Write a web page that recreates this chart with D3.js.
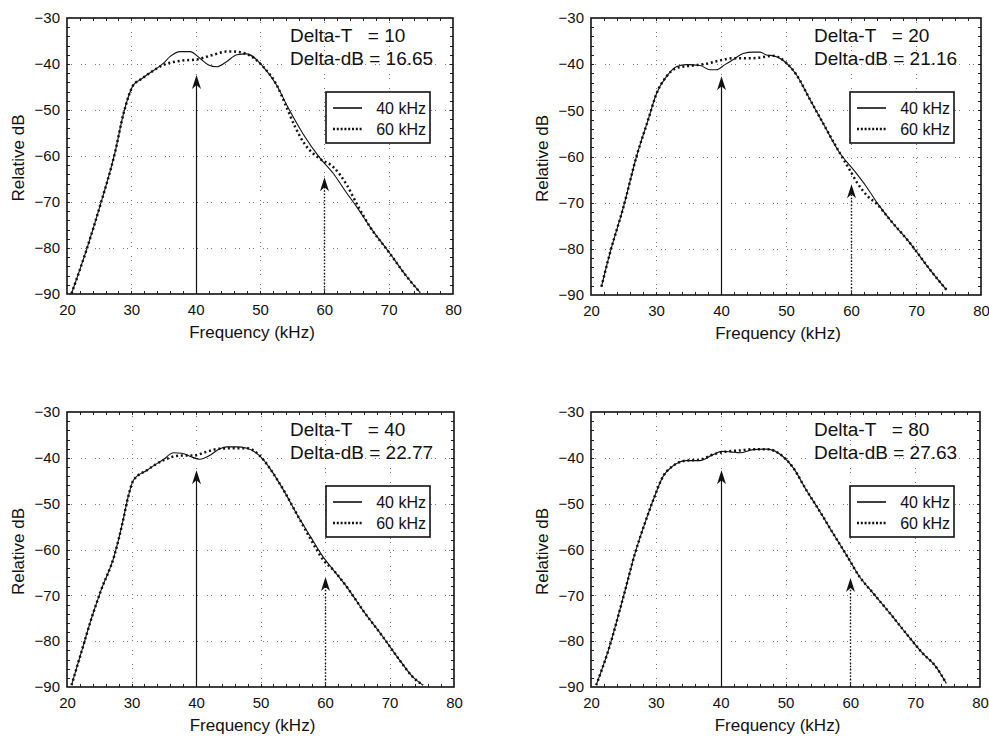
<!DOCTYPE html>
<html><head><meta charset="utf-8">
<script src="https://cdn.jsdelivr.net/npm/d3@7/dist/d3.min.js"></script>
<style>
body{margin:0;background:#fff}
svg{display:block}
text{font-family:"Liberation Sans",Arial,sans-serif;fill:#111}
</style>
</head><body>
<svg id="c" width="989" height="738"></svg>
<script>
// ---------- data ----------
const xTicks = [20, 30, 40, 50, 60, 70, 80];
const yTicks = [-30, -40, -50, -60, -70, -80, -90];
const deltaT = ["10", "20", "40", "80"];
const deltaDB = ["16.65", "21.16", "22.77", "27.63"];
const seriesNames = ["40 kHz", "60 kHz"];
const arrowFreqs = [40, 60];
const arrowTips = [[-42.4, -64.6], [-42.6, -66.0], [-42.7, -66.0], [-42.7, -66.2]];

// Delta-T = 10
const t10_40 = [[20.7,-89.9],[23.1,-80.1],[25.1,-71],[27.5,-59],[28.8,-50.7],[30.3,-44.6],[31.3,-43.5],[32.4,-42.4],[35,-39.8],[36,-38.4],[37.6,-37.3],[39.1,-37.3],[40.7,-38.8],[42,-40.2],[43.3,-40.6],[44.8,-39.5],[46.4,-38],[47.9,-37.8],[50.5,-40.6],[52.6,-44.6],[54.3,-49.3],[56.7,-55.2],[59.3,-60.4],[61.4,-63.8],[63.5,-68.1],[65,-71],[67.1,-75.4],[70.2,-81.2],[72.8,-86.2],[74.9,-89.7]];
const t10_60 = [[20.7,-89.9],[23.1,-80.1],[25.1,-71],[27.5,-59],[28.8,-50.7],[30.3,-44.6],[31.3,-43.5],[32.4,-42.4],[35,-40.2],[37.6,-39.3],[40.2,-39],[42.7,-38],[44.8,-37.3],[45.9,-37.3],[47.9,-37.8],[50.5,-40.6],[52.6,-44.6],[54.1,-49.3],[55.5,-53.8],[57,-57.5],[59.3,-60.6],[61.4,-62.4],[63.5,-66.3],[65,-70.3],[67.1,-75.4],[70.2,-81.2],[72.8,-86.2],[74.9,-89.7]];
// Delta-T = 20
const t20_40 = [[21.6,-88.2],[22.9,-81],[25,-70.9],[27,-60],[28.8,-52],[30.1,-46.3],[31.6,-42.7],[33.2,-40.5],[34.7,-40.1],[36.8,-40.3],[38.3,-41.2],[39.3,-41.2],[40.6,-40.1],[41.9,-39],[43.4,-37.7],[45,-37.4],[46,-37.4],[47,-38],[48.1,-38.2],[50.1,-39.8],[51.6,-42.3],[53.7,-47.7],[55.7,-52.8],[58.3,-59.3],[60.4,-62.9],[62.4,-66.6],[64,-70],[66,-73.7],[69.1,-78.8],[72.2,-84.6],[74.7,-88.9]];
const t20_60 = [[21.6,-88.2],[22.9,-81],[25,-70.9],[27,-60],[28.8,-52],[30.1,-46.3],[31.6,-42.7],[33.2,-40.8],[35.7,-40.3],[37.8,-39.9],[39.8,-39.2],[41.9,-38.7],[45,-38.7],[48.1,-38.2],[50.1,-39.8],[51.6,-42.3],[53.7,-47.7],[55.7,-52.8],[58.3,-59.3],[59.8,-62.9],[61,-65.8],[62.5,-68.5],[64,-70.3],[66,-73.7],[69.1,-78.8],[72.2,-84.6],[74.7,-88.9]];
// Delta-T = 40
const t40_40 = [[20.7,-89.6],[22.2,-82.5],[23.8,-75],[25.3,-68.8],[27.3,-61.5],[28.7,-53.6],[29.4,-49],[30.3,-44.9],[32.4,-42.7],[35,-40.3],[36.5,-38.9],[37.8,-39],[39.1,-39.7],[40.6,-40.3],[42.1,-39.5],[43.7,-38],[44.8,-37.6],[46.3,-37.6],[47.9,-37.9],[50.5,-40.5],[51.5,-42.4],[53.6,-47.1],[55.6,-52.2],[57.8,-57.3],[59.6,-61.4],[61.3,-64.5],[63.4,-68.2],[65.9,-73.3],[69,-79.1],[71.6,-84.2],[73.6,-87.8],[75.2,-89.6]];
const t40_60 = [[20.7,-89.6],[22.2,-82.5],[23.8,-75],[25.3,-68.8],[27.3,-61.5],[28.7,-53.6],[29.4,-49],[30.3,-44.9],[32.4,-42.7],[35,-40.5],[37.6,-39.5],[39.6,-39.5],[41.6,-38.7],[43.7,-38],[45.8,-37.9],[47.9,-37.9],[50.5,-40.5],[51.5,-42.4],[53.6,-47.1],[55.6,-52.2],[57.6,-57.3],[59.8,-62.4],[61.3,-64.5],[63.4,-68.2],[65.9,-73.3],[69,-79.1],[71.6,-84.2],[73.6,-87.8],[75.2,-89.6]];
// Delta-T = 80
const t80_40 = [[20.8,-89.6],[22.7,-81.9],[25,-70.3],[26.8,-60.8],[28.3,-54.3],[29.6,-49.2],[31.1,-44.1],[32.7,-41.7],[34.7,-40.6],[36.8,-40.6],[38.8,-39.3],[40.2,-38.6],[41.5,-38.7],[43,-38.9],[45,-38.2],[47.1,-38.1],[49.6,-39.7],[51.2,-42.2],[53.2,-47],[55.3,-51.7],[57.3,-56.4],[59.4,-61.2],[61.4,-65.9],[63.5,-69.5],[66.1,-73.9],[68.6,-78.3],[71.2,-82.7],[73.1,-85.4],[74.8,-89.2]];
const t80_60 = [[20.8,-89.6],[22.7,-81.9],[25,-70.3],[26.8,-60.8],[28.3,-54.3],[29.6,-49.2],[31.1,-44.1],[32.7,-41.7],[34.7,-40.6],[36.8,-40.4],[38.8,-39.3],[40.9,-38.6],[43,-38.4],[45,-38.1],[47.1,-38.1],[49.6,-39.7],[51.2,-42.2],[53.2,-47],[55.3,-51.7],[57.3,-56.4],[59.4,-61.2],[61.4,-65.9],[63.5,-69.5],[66.1,-73.9],[68.6,-78.3],[71.2,-82.7],[73.1,-85.4],[74.8,-89.2]];

const panelSeries = [[t10_40, t10_60], [t20_40, t20_60], [t40_40, t40_60], [t80_40, t80_60]];

// ---------- layout ----------
const boxes = [
  {l: 67, r: 453, t: 18, b: 294},
  {l: 591, r: 981, t: 18, b: 295},
  {l: 67, r: 454, t: 412, b: 687},
  {l: 591, r: 980, t: 412, b: 687}
];

const svg = d3.select("#c");

boxes.forEach((bx, i) => {
  const x = d3.scaleLinear().domain([20, 80]).range([bx.l, bx.r]);
  const y = d3.scaleLinear().domain([-90, -30]).range([bx.b, bx.t]);
  const g = svg.append("g");

  // grid
  const grid = g.append("g").attr("stroke", "#777").attr("stroke-width", 1)
    .attr("stroke-dasharray", "1 3 1 9").attr("fill", "none");
  xTicks.filter(v => v > 20 && v < 80).forEach(v => {
    grid.append("line").attr("x1", Math.round(x(v)) + 0.5).attr("x2", Math.round(x(v)) + 0.5)
      .attr("y1", bx.t).attr("y2", bx.b);
  });
  yTicks.filter(v => v > -90 && v < -30).forEach(v => {
    grid.append("line").attr("y1", Math.round(y(v)) + 0.5).attr("y2", Math.round(y(v)) + 0.5)
      .attr("x1", bx.l).attr("x2", bx.r);
  });

  // minor inward ticks on all sides
  const minorX = d3.range(22, 80, 2);
  const minorY = d3.range(-88, -30, 2);
  const mt = g.append("g").attr("stroke", "#222").attr("stroke-width", 1);
  minorX.forEach(v => {
    const px = Math.round(x(v)) + 0.5;
    mt.append("line").attr("x1", px).attr("x2", px).attr("y1", bx.b).attr("y2", bx.b - 3);
    mt.append("line").attr("x1", px).attr("x2", px).attr("y1", bx.t).attr("y2", bx.t + 3);
  });
  minorY.forEach(v => {
    const py = Math.round(y(v)) + 0.5;
    mt.append("line").attr("y1", py).attr("y2", py).attr("x1", bx.l).attr("x2", bx.l + 3);
    mt.append("line").attr("y1", py).attr("y2", py).attr("x1", bx.r).attr("x2", bx.r - 3);
  });

  // axes labels via d3 axes
  const ax = g.append("g").attr("transform", `translate(0,${bx.b})`)
    .call(d3.axisBottom(x).tickValues(xTicks).tickSize(0).tickPadding(10).tickFormat(d3.format("d")));
  ax.select(".domain").remove();
  ax.selectAll("text").attr("font-size", 15).attr("font-family", '"Liberation Sans",Arial,sans-serif').attr("fill", "#111");
  const ay = g.append("g").attr("transform", `translate(${bx.l},0)`)
    .call(d3.axisLeft(y).tickValues(yTicks).tickSize(0).tickPadding(7).tickFormat(d3.format("d")));
  ay.select(".domain").remove();
  ay.selectAll("text").attr("font-size", 15).attr("font-family", '"Liberation Sans",Arial,sans-serif').attr("fill", "#111");

  // axis titles
  g.append("text").attr("x", (bx.l + bx.r) / 2 - 8).attr("y", bx.b + 44)
    .attr("text-anchor", "middle").attr("font-size", 17).text("Frequency (kHz)");
  g.append("text").attr("transform", `translate(${bx.l - 43},${(bx.t + bx.b) / 2 + 2}) rotate(-90)`)
    .attr("text-anchor", "middle").attr("font-size", 17).text("Relative dB");

  // curves
  const line = d3.line().x(d => x(d[0])).y(d => y(d[1])).curve(d3.curveMonotoneX);
  const [s40, s60] = panelSeries[i];
  g.append("path").datum(s40).attr("d", line).attr("fill", "none")
    .attr("stroke", "#111").attr("stroke-width", 1.1);
  g.append("path").datum(s60).attr("d", line).attr("fill", "none")
    .attr("stroke", "#111").attr("stroke-width", 2.5).attr("stroke-dasharray", "2 2.8");

  // arrows
  arrowFreqs.forEach((f, k) => {
    const ax0 = Math.round(x(f)) + 0.5;
    const tip = y(arrowTips[i][k]);
    g.append("line").attr("x1", ax0).attr("x2", ax0).attr("y1", bx.b).attr("y2", tip + 8)
      .attr("stroke", "#111").attr("stroke-width", k === 0 ? 1.2 : 1.4)
      .attr("stroke-dasharray", k === 0 ? null : "1.5 1.8");
    g.append("path")
      .attr("d", `M${ax0},${tip} L${ax0 + 4.5},${tip + 14} L${ax0},${tip + 10} L${ax0 - 4.5},${tip + 14} Z`)
      .attr("fill", "#111");
  });

  // frame
  g.append("rect").attr("x", bx.l).attr("y", bx.t).attr("width", bx.r - bx.l).attr("height", bx.b - bx.t)
    .attr("fill", "none").attr("stroke", "#111").attr("stroke-width", 1.6);

  // annotation
  const tx = bx.l + 223;
  g.append("text").attr("x", tx).attr("y", bx.t + 24).attr("font-size", 19)
    .style("white-space", "pre").text("Delta-T   = " + deltaT[i]);
  g.append("text").attr("x", tx).attr("y", bx.t + 47).attr("font-size", 19)
    .text("Delta-dB = " + deltaDB[i]);

  // legend
  const lx = bx.l + 259, ly = bx.t + 74, lw = 104, lh = 51;
  const lg = g.append("g");
  lg.append("rect").attr("x", lx).attr("y", ly).attr("width", lw).attr("height", lh)
    .attr("fill", "#fff").attr("stroke", "#111").attr("stroke-width", 1.6);
  seriesNames.forEach((nm, k) => {
    const yy = ly + 16 + k * 21;
    lg.append("line").attr("x1", lx + 7).attr("x2", lx + 36).attr("y1", yy).attr("y2", yy)
      .attr("stroke", "#111").attr("stroke-width", k === 0 ? 1.6 : 2.4)
      .attr("stroke-dasharray", k === 0 ? null : "2 1.8");
    lg.append("text").attr("x", lx + lw - 4).attr("y", yy + 6).attr("text-anchor", "end")
      .attr("font-size", 16).text(nm);
  });
});
</script>
</body></html>
